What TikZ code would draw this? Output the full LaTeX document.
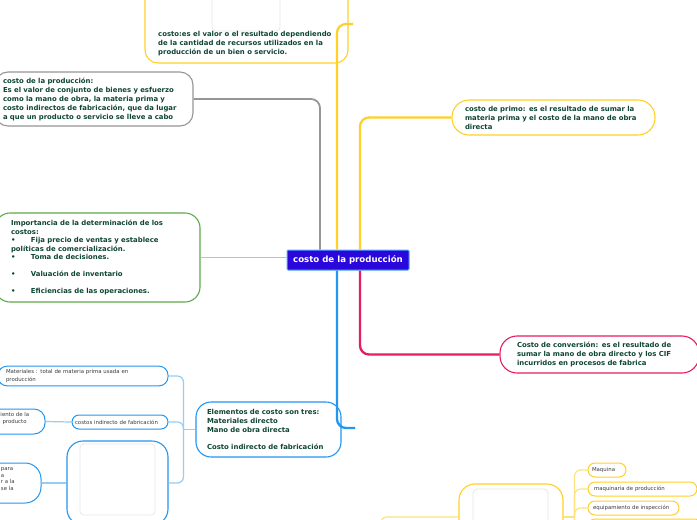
\documentclass[tikz,border=0pt]{standalone}
\usepackage{fontspec}
\newfontfamily\mapfont{DejaVu Sans}
\usetikzlibrary{positioning}
\definecolor{mapamarillo}{RGB}{255,208,40}
\definecolor{mapamarilloclaro}{RGB}{253,226,130}
\definecolor{mapgris}{RGB}{150,150,150}
\definecolor{mapverde}{RGB}{95,170,75}
\definecolor{mapverdeclaro}{RGB}{165,215,150}
\definecolor{mapcarmin}{RGB}{228,30,95}
\definecolor{mapazul}{RGB}{35,150,240}
\definecolor{mapazulclaro}{RGB}{150,205,245}
\definecolor{mapcentro}{RGB}{42,8,220}
\definecolor{mapborde}{RGB}{85,170,255}
\definecolor{maptexto}{RGB}{15,70,50}
\definecolor{mapgrisosc}{RGB}{60,60,60}
\definecolor{mapfoto}{RGB}{232,232,232}
\newcommand{\marcador}{\makebox[20pt][l]{•}}

\begin{document}
\begin{tikzpicture}[x=1pt,y=-1pt,
    texto/.style={align=left,text=maptexto,
        font=\mapfont\bfseries\fontsize{6.9}{9}\selectfont},
    ramo/.style={texto,draw,rounded corners=13pt,line width=1.1pt},
    folha/.style={draw,rounded corners=7pt,line width=1pt,align=left,
        text=mapgrisosc,font=\mapfont\fontsize{5.4}{7.8}\selectfont},
    foto/.style={draw=mapfoto,rounded corners=4pt,line width=0.8pt},
    liga/.style={rounded corners=9pt,line width=2.3pt},
    ligafina/.style={rounded corners=6pt,line width=1.2pt}]
    \clip (0,0) rectangle (697,520);
    \fill[white] (0,0) rectangle (697,520);
    % Nodo central
    \node[draw=mapborde,fill=mapcentro,line width=1pt,rounded corners=1pt,
        text=white,minimum width=122pt,minimum height=20pt,inner sep=0pt,
        font=\mapfont\bfseries\fontsize{8.6}{9}\selectfont]
        (centro) at (348,260) {costo de la producción};
    % Costo (arriba)
    \node[ramo,draw=mapamarillo,minimum width=203pt,minimum height=100pt]
        (costo) at (246.5,13) {};
    \node[foto,minimum width=68pt,minimum height=62pt] (costo-foto) at (246,0) {};
    \node[texto,inner sep=0pt,anchor=north west] (costo-texto) at (158,31.5)
        {costo:es el valor o el resultado dependiendo\\
         de la cantidad de recursos utilizados en la\\
         producción de un bien o servicio.};
    % Costo de la produccion (gris)
    \node[ramo,draw=mapgris,minimum width=198pt,minimum height=54pt,
        text width=182pt,inner xsep=8pt] (produccion) at (94,99)
        {costo de la producción:\\
         Es el valor de conjunto de bienes y esfuerzo\\
         como la mano de obra, la materia prima y\\
         costo indirectos de fabricación, que da lugar\\
         a que un producto o servicio se lleve a cabo};
    % Importancia (verde)
    \node[ramo,draw=mapverde,minimum width=205pt,minimum height=89pt,
        text width=173pt,inner xsep=16pt,rounded corners=15pt,
        font=\mapfont\bfseries\fontsize{6.9}{8.4}\selectfont]
        (importancia) at (97.5,257.5)
        {Importancia de la determinación de los\\
         costos:\\
         \marcador Fija precio de ventas y establece\\
         políticas de comercialización.\\
         \marcador Toma de decisiones.\\[8.4pt]
         \marcador Valuación de inventario\\[8.4pt]
         \marcador Eficiencias de las operaciones.};
    % Costo de primo
    \node[ramo,draw=mapamarillo,minimum width=203pt,minimum height=35pt,
        text width=177pt,inner xsep=13pt,rounded corners=17pt]
        (primo) at (553.5,117.5)
        {costo de primo: es el resultado de sumar la\\
         materia prima y el costo de la mano de obra\\
         directa};
    % Costo de conversion
    \node[ramo,draw=mapcarmin,minimum width=199pt,minimum height=37pt,
        text width=165pt,inner xsep=17pt,rounded corners=17pt]
        (conversion) at (599.5,354.5)
        {Costo de conversión: es el resultado de\\
         sumar la mano de obra directo y los CIF\\
         incurridos en procesos de fabrica};
    % Elementos del costo
    \node[ramo,draw=mapazul,minimum width=145pt,minimum height=55pt,
        text width=123pt,inner xsep=11pt,rounded corners=15pt]
        (elementos) at (268.5,429.5)
        {Elementos de costo son tres:\\
         Materiales directo\\
         Mano de obra directa\\[8.8pt]
         Costo indirecto de fabricación};
    % Hojas azules
    \node[folha,draw=mapazul,minimum width=170pt,minimum height=18pt,
        text width=154pt,inner xsep=8pt,rounded corners=9pt]
        (materiales) at (83,376)
        {Materiales : total de materia prima usada en\\producción};
    \node[folha,draw=mapazul,minimum width=96pt,minimum height=14pt,
        text width=90pt,inner xsep=3pt] (indirecto) at (120,422)
        {costos indirecto de fabricación};
    \node[folha,draw=mapazul,minimum width=85pt,minimum height=25pt,
        rounded corners=11pt] (iento) at (2.5,421.5) {};
    \node[folha,draw=none,inner sep=0pt,anchor=north west] (iento-texto)
        at (0,411.5) {iento de la\\\hspace*{2pt}producto};
    \node[folha,draw=mapazul,minimum width=81pt,minimum height=40pt,
        rounded corners=16pt] (para) at (0.5,483) {};
    \node[folha,draw=none,inner sep=0pt,anchor=north west,
        font=\mapfont\fontsize{5.4}{6.7}\selectfont] (para-texto)
        at (0.5,467) {para\\a\\r a la\\se la};
    \node[ramo,draw=mapazul,minimum width=101pt,minimum height=84pt,
        rounded corners=16pt] (mano) at (117.5,483) {};
    \node[foto,minimum width=75pt,minimum height=71pt] (mano-foto)
        at (117.5,479.5) {};
    % Maquinas (abajo derecha)
    \node[ramo,draw=mapamarillo,minimum width=104pt,minimum height=66pt,
        rounded corners=16pt] (maquinas) at (511,517) {};
    \node[foto,minimum width=75pt,minimum height=62pt] (maquinas-foto)
        at (510.5,520) {};
    \node[folha,draw=mapamarillo,minimum width=38pt,minimum height=14pt,
        text width=30pt,inner xsep=4pt] (maquina) at (607,470) {Maquina};
    \node[folha,draw=mapamarillo,minimum width=109pt,minimum height=14pt,
        text width=97pt,inner xsep=6pt] (maquinaria) at (642.5,489)
        {maquinaria de producción};
    \node[folha,draw=mapamarillo,minimum width=91pt,minimum height=14pt,
        text width=81pt,inner xsep=5pt] (inspeccion) at (633.5,508)
        {equipamiento de inspección};
    \node[folha,draw=mapamarillo,minimum width=114pt,minimum height=14pt]
        (cuarto) at (645,526) {};
    % Conexiones principales
    \coordinate (c-arriba) at (353,24);
    \coordinate (c-elem) at (355,428);
    \draw[liga,mapamarillo] ([xshift=-11pt]centro.north) |- (c-arriba);
    \draw[liga,mapgris,line width=1.8pt] (produccion.east)
        -| ([xshift=-28pt]centro.north);
    \draw[liga,mapamarillo] ([xshift=12pt]centro.north) |- (primo.west);
    \draw[mapverdeclaro,line width=0.9pt] (importancia.east)
        -- (importancia.east -| centro.west);
    \draw[liga,mapcarmin] ([xshift=12pt]centro.south) |- (conversion.west);
    \draw[liga,mapazul] ([xshift=-11pt]centro.south) |- (c-elem);
    % Conexiones azules
    \coordinate (j-elem) at ([xshift=-12pt]elementos.west);
    \draw[ligafina,mapazulclaro] (elementos.west) -- (j-elem);
    \draw[ligafina,mapazulclaro] (j-elem) |- (materiales.east);
    \draw[ligafina,mapazulclaro] (j-elem) |- (indirecto.east);
    \draw[ligafina,mapazulclaro] (j-elem) |- (mano.east);
    \draw[ligafina,mapazulclaro] (iento.east) -- (indirecto.west);
    \draw[ligafina,mapazulclaro] (para.east) -- (mano.west);
    % Conexiones amarillas
    \coordinate (j-maq) at ([xshift=11pt]maquinas.east);
    \coordinate (c-abajo) at (381,530);
    \draw[ligafina,mapamarilloclaro] (maquinas.east) -- (j-maq);
    \draw[ligafina,mapamarilloclaro] (j-maq) |- (maquina.west);
    \draw[ligafina,mapamarilloclaro] (j-maq) |- (maquinaria.west);
    \draw[ligafina,mapamarilloclaro] (j-maq) |- (inspeccion.west);
    \draw[ligafina,mapamarilloclaro] (j-maq) |- (cuarto.west);
    \draw[ligafina,mapamarilloclaro] (c-abajo) |- (maquinas.west);
\end{tikzpicture}
\end{document}
